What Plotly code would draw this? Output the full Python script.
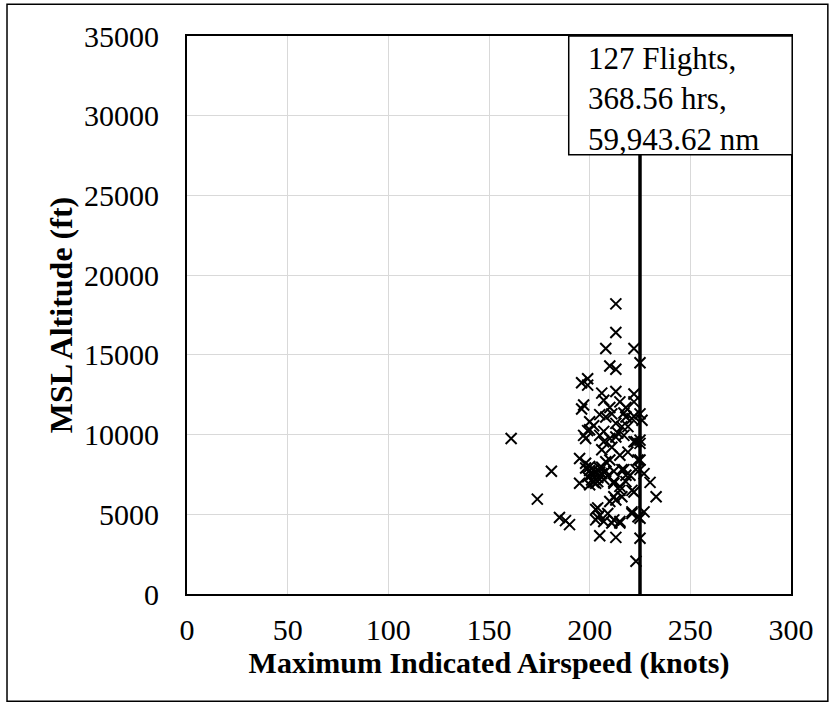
import plotly.graph_objects as go

# Maximum indicated airspeed (knots) and MSL altitude (ft) per flight
airspeed_knots = [
    213, 213, 208, 222, 225, 210, 213, 196, 199, 199,
    206, 213, 222, 207, 215, 222, 197, 196, 210, 218,
    225, 205, 208, 218, 222, 202, 216, 197, 205, 213,
    217, 161, 225, 207, 200, 198, 223, 206, 215, 195,
    225, 198, 208, 181, 212, 217, 218, 225, 227, 195,
    200, 203, 212, 218, 230, 222, 215, 212, 213, 233,
    210, 174, 203, 221, 227, 185, 188, 190, 204, 207,
    212, 215, 224, 205, 213, 225, 223, 198, 200, 201,
    202, 203, 204, 205, 206, 207, 199, 201, 204, 208,
    209, 202, 205, 200, 206, 211, 217, 221, 200, 213,
    219, 199, 207, 210, 214, 222, 225, 210, 224, 216,
    220, 223, 212, 215, 221, 216, 204, 205, 209, 211,
    203, 221, 225, 215, 226, 219, 211,
]
altitude_ft = [
    18200, 16400, 15400, 15400, 14500, 14300, 14100, 13250, 13500, 13100,
    12600, 12700, 12550, 12150, 12050, 12050, 11850, 11600, 11700, 11700,
    11300, 11250, 11100, 11100, 11150, 10550, 10500, 9950, 9950, 9850,
    9950, 9750, 9650, 9550, 10300, 9750, 9550, 9050, 8700, 8500,
    8400, 8200, 8300, 7700, 7700, 7800, 7450, 7800, 7550, 6950,
    6850, 6950, 7050, 7050, 7000, 6400, 6500, 6100, 5900, 6100,
    5800, 5950, 5300, 5150, 5150, 4800, 4600, 4350, 4800, 4550,
    4650, 4450, 4850, 3650, 3550, 3500, 2050, 7900, 7750, 7500,
    7800, 7600, 7300, 7900, 7550, 7200, 7350, 7150, 7050, 7700,
    7400, 7000, 7650, 8000, 7950, 11300, 11350, 11000, 10800, 10700,
    10500, 10250, 10200, 9750, 10100, 9550, 9450, 8400, 8400, 7800,
    7450, 7800, 6950, 6750, 6500, 6100, 5400, 4950, 5050, 4450,
    4650, 5050, 4750, 4550, 10900, 8900, 9200,
]

limit_knots = 225
x_ticks = [0, 50, 100, 150, 200, 250, 300]
y_ticks = [0, 5000, 10000, 15000, 20000, 25000, 30000, 35000]
summary_lines = ["127 Flights,", "368.56 hrs,", "59,943.62 nm"]

FONT = "Times New Roman, Liberation Serif, serif"

fig = go.Figure()
fig.add_trace(go.Scatter(
    x=[limit_knots, limit_knots], y=[y_ticks[0], y_ticks[-1]],
    mode="lines", line=dict(color="black", width=3.5),
    hoverinfo="skip", showlegend=False,
))
fig.add_trace(go.Scatter(
    x=airspeed_knots, y=altitude_ft, mode="markers",
    marker=dict(symbol="x-thin-open", size=11, color="black",
                line=dict(color="black", width=2)),
    showlegend=False,
))

axis_common = dict(
    showgrid=True, gridcolor="#d9d9d9", gridwidth=1.3,
    showline=True, linecolor="black", linewidth=2, mirror=True,
    zeroline=False, ticks="",
    tickfont=dict(family=FONT, size=30, color="black"),
    tickformat="d",
)

fig.update_xaxes(
    range=[x_ticks[0], x_ticks[-1]], tickvals=x_ticks,
    title=dict(text="<b>Maximum Indicated Airspeed (knots)</b>",
               font=dict(family=FONT, size=30, color="black"), standoff=6),
    ticklabelstandoff=8,
    **axis_common,
)
fig.update_yaxes(
    range=[y_ticks[0], y_ticks[-1]], tickvals=y_ticks,
    title=dict(text="<b>MSL Altitude (ft)</b>",
               font=dict(family=FONT, size=32, color="black"), standoff=2),
    ticklabelstandoff=20,
    **axis_common,
)

# summary box
fig.add_shape(type="rect", xref="paper", yref="paper",
              x0=0.632, x1=1.002, y0=0.787, y1=1.0,
              line=dict(color="black", width=1.5), fillcolor="white", layer="above")
fig.add_annotation(
    xref="paper", yref="paper", x=0.66, y=0.995, xanchor="left", yanchor="top",
    text="<br>".join(summary_lines), showarrow=False, align="left",
    font=dict(family=FONT, size=31, color="black"),
)
# outer chart border
fig.add_shape(type="rect", xref="paper", yref="paper",
              x0=-0.298, x1=1.061, y0=-0.192, y1=1.057,
              line=dict(color="black", width=1.5), fillcolor="rgba(0,0,0,0)", layer="above")

fig.update_layout(
    width=835, height=709,
    margin=dict(l=187, r=44, t=36, b=115),
    paper_bgcolor="white", plot_bgcolor="white",
    font=dict(family=FONT, color="black"),
)

fig.write_html("out.html")
